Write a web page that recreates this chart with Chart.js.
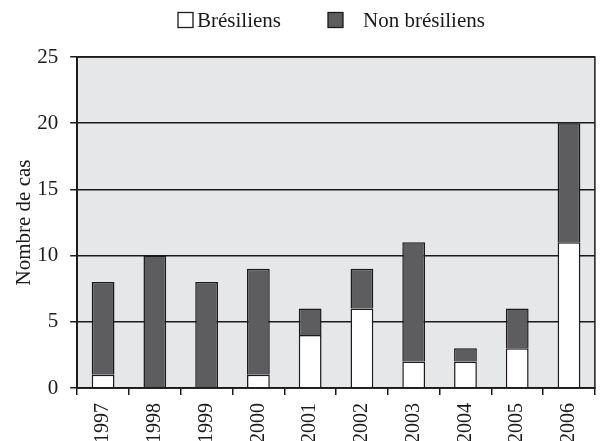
<!DOCTYPE html>
<html><head><meta charset="utf-8">
<script src="https://cdn.jsdelivr.net/npm/chart.js@4/dist/chart.umd.min.js"></script>
<style>html,body{margin:0;padding:0;background:#fff;}#wrap{width:601px;height:441px;}</style>
</head><body><div id="wrap"><canvas id="c" width="601" height="441"></canvas></div>
<script>
const years = ['1997','1998','1999','2000','2001','2002','2003','2004','2005','2006'];
const bresiliens = [1,0,0,1,4,6,2,2,3,11];
const nonBresiliens = [7,10,8,8,2,3,9,1,3,9];
const yTicks = [0,5,10,15,20,25];

const FONT = "'Liberation Serif', 'Times New Roman', serif";
const INK = '#1c1a1b';

// legend layout (box x, text x) for each dataset
const legendLayout = [{box: 178, text: 197}, {box: 328, text: 363}];

const plotDecor = {
  id: 'plotDecor',
  beforeDraw(chart) {
    const {ctx, chartArea: a} = chart;
    ctx.save();
    ctx.fillStyle = '#e6e7e9';
    ctx.fillRect(a.left, a.top, a.right - a.left, a.bottom - a.top);
    ctx.restore();
  },
  afterDraw(chart) {
    const {ctx, chartArea: a} = chart;
    ctx.save();
    ctx.strokeStyle = INK;
    ctx.lineWidth = 1.5;
    ctx.strokeRect(a.left, a.top, a.right - a.left, a.bottom - a.top);
    // legend
    ctx.font = '21px ' + FONT;
    ctx.textBaseline = 'middle';
    ctx.textAlign = 'left';
    chart.data.datasets.forEach((ds, i) => {
      const L = legendLayout[i];
      ctx.fillStyle = ds.backgroundColor;
      ctx.fillRect(L.box, 12.5, 15, 15);
      ctx.lineWidth = 1.3;
      ctx.strokeStyle = INK;
      ctx.strokeRect(L.box, 12.5, 15, 15);
      ctx.fillStyle = INK;
      ctx.fillText(ds.label, L.text, 21);
    });
    ctx.restore();
  }
};

new Chart(document.getElementById('c'), {
  type: 'bar',
  data: {
    labels: years,
    datasets: [
      {label: 'Brésiliens', data: bresiliens, backgroundColor: '#ffffff', borderColor: INK, borderWidth: 1.5, barPercentage: 0.44, categoryPercentage: 1},
      {label: 'Non brésiliens', data: nonBresiliens, backgroundColor: '#5d5d5f', borderColor: INK, borderWidth: 1.5, barPercentage: 0.44, categoryPercentage: 1}
    ]
  },
  options: {
    responsive: false,
    animation: false,
    devicePixelRatio: 1,
    layout: {padding: {left: 12, right: 0, top: 57, bottom: -10}},
    plugins: {
      legend: {display: false},
      tooltip: {enabled: false}
    },
    scales: {
      x: {
        stacked: true,
        grid: {display: true, drawOnChartArea: false, drawTicks: true, tickLength: 7, color: INK, lineWidth: 1.5, offset: true},
        border: {display: true, color: INK, width: 1.5},
        ticks: {font: {family: FONT, size: 20}, color: INK, minRotation: 90, maxRotation: 90, padding: 8}
      },
      y: {
        stacked: true,
        min: 0, max: 25,
        afterBuildTicks(scale) { scale.ticks = yTicks.map(v => ({value: v})); },
        grid: {display: true, drawTicks: true, tickLength: 7, color: INK, lineWidth: 1.5},
        border: {display: true, color: INK, width: 1.5},
        ticks: {font: {family: FONT, size: 21}, color: INK, padding: 12},
        title: {display: true, text: 'Nombre de cas', font: {family: FONT, size: 21}, color: INK, padding: {top: 0, bottom: -12}}
      }
    }
  },
  plugins: [plotDecor]
});
</script></body></html>
